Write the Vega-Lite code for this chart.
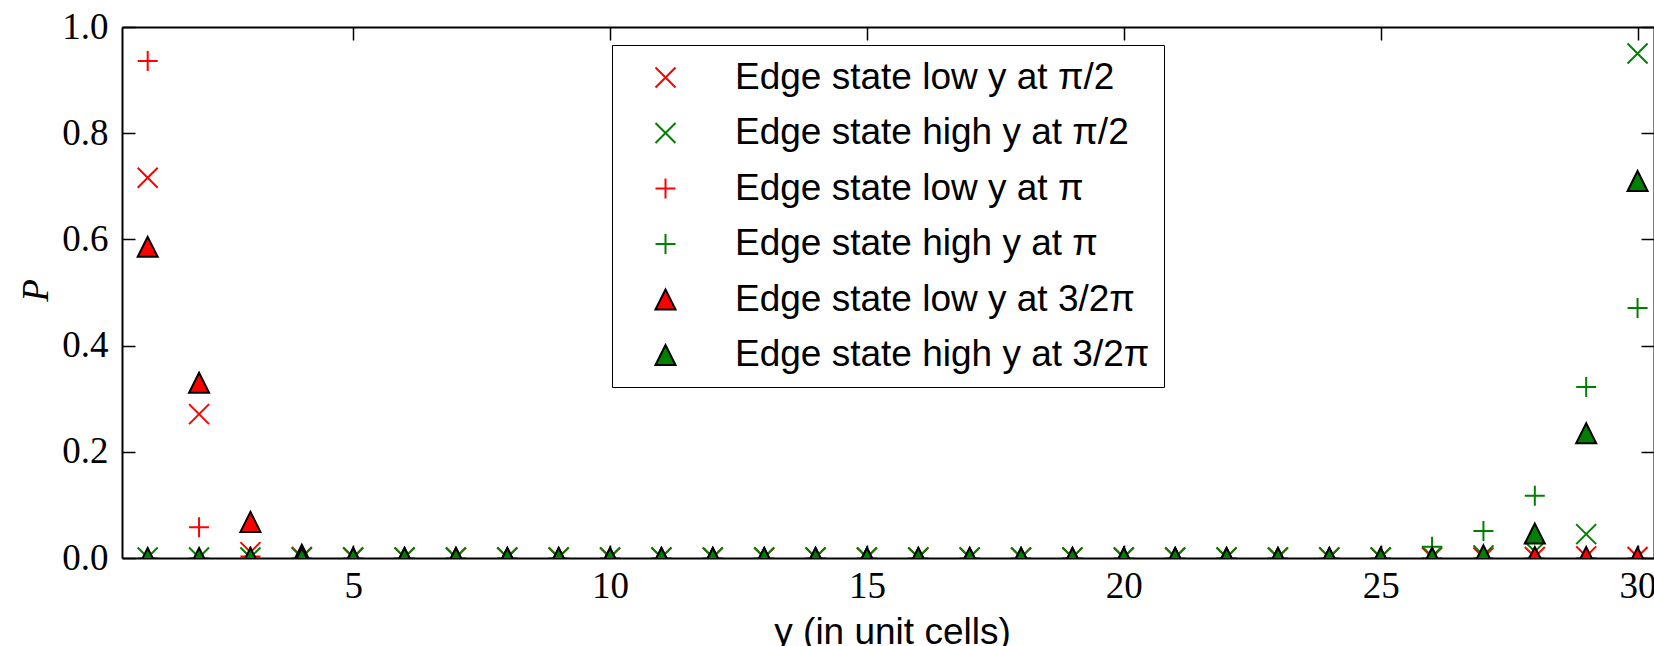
{
"$schema":"https://vega.github.io/schema/vega-lite/v6.json",
"width":1532,"height":531,
"autosize":{"type":"none"},
"padding":{"left":122,"top":27,"right":0,"bottom":88},
"background":"white",
"config":{
 "view":{"stroke":null},
 "axis":{"domainColor":"black","domainWidth":2,"tickColor":"black","tickWidth":1.5,"tickSize":-13,"labelFont":"Liberation Serif","labelFontSize":37,"labelColor":"black","labelFlush":false,"labelOverlap":false,"grid":false,"titleFont":"Liberation Sans","titleFontSize":37,"titleFontWeight":"normal","titleColor":"black"},
 "axisLeft":{"labelPadding":27},
 "axisBottom":{"labelPadding":23}
},
"data":{"values":[
{"s":"A","x":1,"p":0.716},{"s":"A","x":2,"p":0.271},{"s":"A","x":3,"p":0.011},{"s":"A","x":4,"p":0.002},{"s":"A","x":5,"p":0.001},{"s":"A","x":6,"p":0.001},{"s":"A","x":7,"p":0.001},{"s":"A","x":8,"p":0.001},{"s":"A","x":9,"p":0.001},{"s":"A","x":10,"p":0.001},{"s":"A","x":11,"p":0.001},{"s":"A","x":12,"p":0.001},{"s":"A","x":13,"p":0.001},{"s":"A","x":14,"p":0.001},{"s":"A","x":15,"p":0.001},{"s":"A","x":16,"p":0.001},{"s":"A","x":17,"p":0.001},{"s":"A","x":18,"p":0.001},{"s":"A","x":19,"p":0.001},{"s":"A","x":20,"p":0.001},{"s":"A","x":21,"p":0.001},{"s":"A","x":22,"p":0.001},{"s":"A","x":23,"p":0.001},{"s":"A","x":24,"p":0.001},{"s":"A","x":25,"p":0.001},{"s":"A","x":26,"p":0.001},{"s":"A","x":27,"p":0.001},{"s":"A","x":28,"p":0.002},{"s":"A","x":29,"p":0.003},{"s":"A","x":30,"p":0.002},
{"s":"B","x":1,"p":0.001},{"s":"B","x":2,"p":0.001},{"s":"B","x":3,"p":0.001},{"s":"B","x":4,"p":0.001},{"s":"B","x":5,"p":0.001},{"s":"B","x":6,"p":0.001},{"s":"B","x":7,"p":0.001},{"s":"B","x":8,"p":0.001},{"s":"B","x":9,"p":0.001},{"s":"B","x":10,"p":0.001},{"s":"B","x":11,"p":0.001},{"s":"B","x":12,"p":0.001},{"s":"B","x":13,"p":0.001},{"s":"B","x":14,"p":0.001},{"s":"B","x":15,"p":0.001},{"s":"B","x":16,"p":0.001},{"s":"B","x":17,"p":0.001},{"s":"B","x":18,"p":0.001},{"s":"B","x":19,"p":0.001},{"s":"B","x":20,"p":0.001},{"s":"B","x":21,"p":0.001},{"s":"B","x":22,"p":0.001},{"s":"B","x":23,"p":0.001},{"s":"B","x":24,"p":0.001},{"s":"B","x":25,"p":0.001},{"s":"B","x":26,"p":0.003},{"s":"B","x":27,"p":0.005},{"s":"B","x":28,"p":0.012},{"s":"B","x":29,"p":0.045},{"s":"B","x":30,"p":0.95},
{"s":"C","x":1,"p":0.936},{"s":"C","x":2,"p":0.058},{"s":"C","x":3,"p":0.003},{"s":"C","x":4,"p":0},{"s":"C","x":5,"p":0},{"s":"C","x":6,"p":0},{"s":"C","x":7,"p":0},{"s":"C","x":8,"p":0},{"s":"C","x":9,"p":0},{"s":"C","x":10,"p":0},{"s":"C","x":11,"p":0},{"s":"C","x":12,"p":0},{"s":"C","x":13,"p":0},{"s":"C","x":14,"p":0},{"s":"C","x":15,"p":0},{"s":"C","x":16,"p":0},{"s":"C","x":17,"p":0},{"s":"C","x":18,"p":0},{"s":"C","x":19,"p":0},{"s":"C","x":20,"p":0},{"s":"C","x":21,"p":0},{"s":"C","x":22,"p":0},{"s":"C","x":23,"p":0},{"s":"C","x":24,"p":0},{"s":"C","x":25,"p":0},{"s":"C","x":26,"p":0},{"s":"C","x":27,"p":0},{"s":"C","x":28,"p":0},{"s":"C","x":29,"p":0},{"s":"C","x":30,"p":0},
{"s":"D","x":1,"p":0},{"s":"D","x":2,"p":0},{"s":"D","x":3,"p":0},{"s":"D","x":4,"p":0},{"s":"D","x":5,"p":0},{"s":"D","x":6,"p":0},{"s":"D","x":7,"p":0},{"s":"D","x":8,"p":0},{"s":"D","x":9,"p":0},{"s":"D","x":10,"p":0},{"s":"D","x":11,"p":0},{"s":"D","x":12,"p":0},{"s":"D","x":13,"p":0},{"s":"D","x":14,"p":0},{"s":"D","x":15,"p":0},{"s":"D","x":16,"p":0},{"s":"D","x":17,"p":0},{"s":"D","x":18,"p":0},{"s":"D","x":19,"p":0},{"s":"D","x":20,"p":0},{"s":"D","x":21,"p":0},{"s":"D","x":22,"p":0},{"s":"D","x":23,"p":0},{"s":"D","x":24,"p":0},{"s":"D","x":25,"p":0},{"s":"D","x":26,"p":0.021},{"s":"D","x":27,"p":0.051},{"s":"D","x":28,"p":0.117},{"s":"D","x":29,"p":0.322},{"s":"D","x":30,"p":0.471},
{"s":"E","x":1,"p":0.586},{"s":"E","x":2,"p":0.33},{"s":"E","x":3,"p":0.068},{"s":"E","x":4,"p":0.006},{"s":"E","x":5,"p":0},{"s":"E","x":6,"p":0},{"s":"E","x":7,"p":0},{"s":"E","x":8,"p":0},{"s":"E","x":9,"p":0},{"s":"E","x":10,"p":0},{"s":"E","x":11,"p":0},{"s":"E","x":12,"p":0},{"s":"E","x":13,"p":0},{"s":"E","x":14,"p":0},{"s":"E","x":15,"p":0},{"s":"E","x":16,"p":0},{"s":"E","x":17,"p":0},{"s":"E","x":18,"p":0},{"s":"E","x":19,"p":0},{"s":"E","x":20,"p":0},{"s":"E","x":21,"p":0},{"s":"E","x":22,"p":0},{"s":"E","x":23,"p":0},{"s":"E","x":24,"p":0},{"s":"E","x":25,"p":0},{"s":"E","x":26,"p":0},{"s":"E","x":27,"p":0},{"s":"E","x":28,"p":0.002},{"s":"E","x":29,"p":0.002},{"s":"E","x":30,"p":0.001},
{"s":"F","x":1,"p":0},{"s":"F","x":2,"p":0},{"s":"F","x":3,"p":0},{"s":"F","x":4,"p":0},{"s":"F","x":5,"p":0},{"s":"F","x":6,"p":0},{"s":"F","x":7,"p":0},{"s":"F","x":8,"p":0},{"s":"F","x":9,"p":0},{"s":"F","x":10,"p":0},{"s":"F","x":11,"p":0},{"s":"F","x":12,"p":0},{"s":"F","x":13,"p":0},{"s":"F","x":14,"p":0},{"s":"F","x":15,"p":0},{"s":"F","x":16,"p":0},{"s":"F","x":17,"p":0},{"s":"F","x":18,"p":0},{"s":"F","x":19,"p":0},{"s":"F","x":20,"p":0},{"s":"F","x":21,"p":0},{"s":"F","x":22,"p":0},{"s":"F","x":23,"p":0},{"s":"F","x":24,"p":0},{"s":"F","x":25,"p":0},{"s":"F","x":26,"p":0},{"s":"F","x":27,"p":0.005},{"s":"F","x":28,"p":0.046},{"s":"F","x":29,"p":0.235},{"s":"F","x":30,"p":0.71}
]},
"layer":[
 {"mark":{"type":"point","clip":true,"opacity":1,"strokeWidth":2,"size":400},
  "encoding":{
   "x":{"field":"x","type":"quantitative","scale":{"domain":[0.5,30.32],"nice":false,"zero":false},
        "axis":{"orient":"bottom","values":[5,10,15,20,25,30],"format":"d","title":"y (in unit cells)","titleX":770,"titleY":85,"titleBaseline":"alphabetic","titleAlign":"center"}},
   "y":{"field":"p","type":"quantitative","scale":{"domain":[0,1],"nice":false,"zero":false},
        "axis":{"orient":"left","values":[0,0.2,0.4,0.6,0.8,1],"format":".1f","title":"P","titleX":-75,"titleY":263,"titleAngle":-90,"titleBaseline":"alphabetic","titleAlign":"center","titleFont":"Liberation Serif","titleFontStyle":"italic"}},
   "shape":{"field":"s","type":"nominal",
     "scale":{"domain":["A","B","C","D","E","F"],"range":["M-1,-1L1,1M-1,1L1,-1","M-1,-1L1,1M-1,1L1,-1","M-1,0L1,0M0,-1L0,1","M-1,0L1,0M0,-1L0,1","M0,-1L1,1L-1,1Z","M0,-1L1,1L-1,1Z"]},
     "legend":{"orient":"none","legendX":490,"legendY":18,"title":null,
       "labelExpr":"datum.label == 'A' ? 'Edge state low y at π/2' : datum.label == 'B' ? 'Edge state high y at π/2' : datum.label == 'C' ? 'Edge state low y at π' : datum.label == 'D' ? 'Edge state high y at π' : datum.label == 'E' ? 'Edge state low y at 3/2π' : 'Edge state high y at 3/2π'",
       "padding":14,"symbolOffset":21,"labelOffset":51,"rowPadding":17.5,"symbolSize":400,"symbolStrokeWidth":2,"strokeColor":"black","fillColor":"white","labelFont":"Liberation Sans","labelFontSize":37,"labelColor":"black","labelLimit":0,
       "encode":{"legend":{"update":{"strokeWidth":{"value":3}}}}}},
   "stroke":{"field":"s","type":"nominal","scale":{"domain":["A","B","C","D","E","F"],"range":["#ff0000","#008000","#ff0000","#008000","#000000","#000000"]}},
   "fill":{"field":"s","type":"nominal","scale":{"domain":["A","B","C","D","E","F"],"range":["transparent","transparent","transparent","transparent","#ff0000","#008000"]}}
  }},
 {"mark":{"type":"point","opacity":0},
  "encoding":{
   "x":{"field":"x","type":"quantitative","axis":{"orient":"top","values":[5,10,15,20,25,30],"labels":false,"title":null}},
   "y":{"field":"p","type":"quantitative","axis":{"orient":"right","values":[0,0.2,0.4,0.6,0.8,1],"labels":false,"title":null}}
  }}
],
"resolve":{"axis":{"x":"independent","y":"independent"}}
}
